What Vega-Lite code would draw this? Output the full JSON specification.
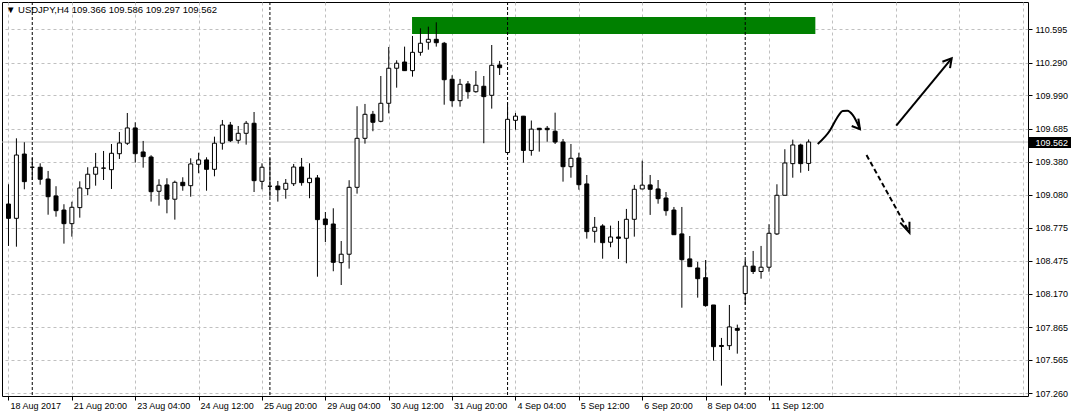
{
  "$schema": "https://vega.github.io/schema/vega-lite/v6.json",
  "width": 1026,
  "height": 394,
  "autosize": {"type": "none"},
  "padding": {"left": 2, "top": 2, "right": 43, "bottom": 20},
  "background": "white",
  "config": {
    "view": {"stroke": "black", "strokeWidth": 1},
    "font": "Liberation Sans",
    "axis": {"labelOverlap": false, "labelBound": false, "labelFlush": false}
  },
  "title": {
    "text": "▼  USDJPY,H4  109.366 109.586 109.297 109.562",
    "anchor": "start",
    "frame": "group",
    "orient": "top",
    "offset": -13,
    "dx": 4,
    "font": "Liberation Sans",
    "fontSize": 9.5,
    "fontWeight": "normal",
    "color": "black"
  },
  "datasets": {
    "candles": [
      {"t": "2017-08-18 12:00", "n": 0, "o": 108.994, "h": 109.175, "l": 108.610, "c": 108.863},
      {"t": "2017-08-18 16:00", "n": 1, "o": 108.863, "h": 109.596, "l": 108.603, "c": 109.443},
      {"t": "2017-08-18 20:00", "n": 2, "o": 109.452, "h": 109.560, "l": 109.129, "c": 109.199},
      {"t": "2017-08-21 00:00", "n": 3, "o": 109.331, "h": 109.416, "l": 109.214, "c": 109.331},
      {"t": "2017-08-21 04:00", "n": 4, "o": 109.331, "h": 109.367, "l": 109.171, "c": 109.221},
      {"t": "2017-08-21 08:00", "n": 5, "o": 109.223, "h": 109.297, "l": 108.896, "c": 109.061},
      {"t": "2017-08-21 12:00", "n": 6, "o": 109.068, "h": 109.157, "l": 108.878, "c": 108.933},
      {"t": "2017-08-21 16:00", "n": 7, "o": 108.939, "h": 108.992, "l": 108.631, "c": 108.814},
      {"t": "2017-08-21 20:00", "n": 8, "o": 108.814, "h": 109.015, "l": 108.695, "c": 108.964},
      {"t": "2017-08-22 00:00", "n": 9, "o": 108.961, "h": 109.202, "l": 108.869, "c": 109.141},
      {"t": "2017-08-22 04:00", "n": 10, "o": 109.135, "h": 109.331, "l": 109.074, "c": 109.267},
      {"t": "2017-08-22 08:00", "n": 11, "o": 109.267, "h": 109.462, "l": 109.162, "c": 109.331},
      {"t": "2017-08-22 12:00", "n": 12, "o": 109.322, "h": 109.480, "l": 109.214, "c": 109.324},
      {"t": "2017-08-22 16:00", "n": 13, "o": 109.309, "h": 109.544, "l": 109.132, "c": 109.459},
      {"t": "2017-08-22 20:00", "n": 14, "o": 109.455, "h": 109.654, "l": 109.407, "c": 109.553},
      {"t": "2017-08-23 00:00", "n": 15, "o": 109.551, "h": 109.828, "l": 109.535, "c": 109.691},
      {"t": "2017-08-23 04:00", "n": 16, "o": 109.691, "h": 109.743, "l": 109.373, "c": 109.455},
      {"t": "2017-08-23 08:00", "n": 17, "o": 109.471, "h": 109.572, "l": 109.327, "c": 109.428},
      {"t": "2017-08-23 12:00", "n": 18, "o": 109.425, "h": 109.441, "l": 109.016, "c": 109.107},
      {"t": "2017-08-23 16:00", "n": 19, "o": 109.111, "h": 109.221, "l": 108.979, "c": 109.166},
      {"t": "2017-08-23 20:00", "n": 20, "o": 109.169, "h": 109.230, "l": 108.909, "c": 109.038},
      {"t": "2017-08-24 00:00", "n": 21, "o": 109.038, "h": 109.208, "l": 108.851, "c": 109.193},
      {"t": "2017-08-24 04:00", "n": 22, "o": 109.193, "h": 109.239, "l": 109.116, "c": 109.162},
      {"t": "2017-08-24 08:00", "n": 23, "o": 109.162, "h": 109.413, "l": 109.061, "c": 109.361},
      {"t": "2017-08-24 12:00", "n": 24, "o": 109.358, "h": 109.464, "l": 109.276, "c": 109.398},
      {"t": "2017-08-24 16:00", "n": 25, "o": 109.398, "h": 109.422, "l": 109.116, "c": 109.312},
      {"t": "2017-08-24 20:00", "n": 26, "o": 109.312, "h": 109.611, "l": 109.248, "c": 109.551},
      {"t": "2017-08-25 00:00", "n": 27, "o": 109.551, "h": 109.764, "l": 109.492, "c": 109.718},
      {"t": "2017-08-25 04:00", "n": 28, "o": 109.718, "h": 109.746, "l": 109.562, "c": 109.574},
      {"t": "2017-08-25 08:00", "n": 29, "o": 109.578, "h": 109.709, "l": 109.547, "c": 109.642},
      {"t": "2017-08-25 12:00", "n": 30, "o": 109.642, "h": 109.755, "l": 109.538, "c": 109.734},
      {"t": "2017-08-25 16:00", "n": 31, "o": 109.734, "h": 109.837, "l": 109.104, "c": 109.208},
      {"t": "2017-08-25 20:00", "n": 32, "o": 109.202, "h": 109.367, "l": 109.129, "c": 109.331},
      {"t": "2017-08-28 00:00", "n": 33, "o": 109.157, "h": 109.413, "l": 109.061, "c": 109.157},
      {"t": "2017-08-28 04:00", "n": 34, "o": 109.159, "h": 109.205, "l": 109.016, "c": 109.125},
      {"t": "2017-08-28 08:00", "n": 35, "o": 109.129, "h": 109.223, "l": 109.043, "c": 109.184},
      {"t": "2017-08-28 12:00", "n": 36, "o": 109.180, "h": 109.361, "l": 109.159, "c": 109.333},
      {"t": "2017-08-28 16:00", "n": 37, "o": 109.333, "h": 109.416, "l": 109.162, "c": 109.190},
      {"t": "2017-08-28 20:00", "n": 38, "o": 109.190, "h": 109.367, "l": 109.047, "c": 109.230},
      {"t": "2017-08-29 00:00", "n": 39, "o": 109.233, "h": 109.260, "l": 108.328, "c": 108.851},
      {"t": "2017-08-29 04:00", "n": 40, "o": 108.857, "h": 108.921, "l": 108.646, "c": 108.805},
      {"t": "2017-08-29 08:00", "n": 41, "o": 108.811, "h": 108.955, "l": 108.378, "c": 108.460},
      {"t": "2017-08-29 12:00", "n": 42, "o": 108.457, "h": 108.655, "l": 108.252, "c": 108.534},
      {"t": "2017-08-29 16:00", "n": 43, "o": 108.534, "h": 109.212, "l": 108.402, "c": 109.147},
      {"t": "2017-08-29 20:00", "n": 44, "o": 109.147, "h": 109.890, "l": 109.089, "c": 109.596},
      {"t": "2017-08-30 00:00", "n": 45, "o": 109.596, "h": 109.911, "l": 109.547, "c": 109.816},
      {"t": "2017-08-30 04:00", "n": 46, "o": 109.816, "h": 109.847, "l": 109.661, "c": 109.743},
      {"t": "2017-08-30 08:00", "n": 47, "o": 109.752, "h": 110.167, "l": 109.743, "c": 109.917},
      {"t": "2017-08-30 12:00", "n": 48, "o": 109.917, "h": 110.433, "l": 109.825, "c": 110.238},
      {"t": "2017-08-30 16:00", "n": 49, "o": 110.238, "h": 110.311, "l": 110.060, "c": 110.284},
      {"t": "2017-08-30 20:00", "n": 50, "o": 110.295, "h": 110.436, "l": 110.213, "c": 110.216},
      {"t": "2017-08-31 00:00", "n": 51, "o": 110.216, "h": 110.534, "l": 110.161, "c": 110.384},
      {"t": "2017-08-31 04:00", "n": 52, "o": 110.384, "h": 110.604, "l": 110.353, "c": 110.467},
      {"t": "2017-08-31 08:00", "n": 53, "o": 110.476, "h": 110.619, "l": 110.408, "c": 110.503},
      {"t": "2017-08-31 12:00", "n": 54, "o": 110.503, "h": 110.659, "l": 110.436, "c": 110.472},
      {"t": "2017-08-31 16:00", "n": 55, "o": 110.467, "h": 110.479, "l": 109.904, "c": 110.133},
      {"t": "2017-08-31 20:00", "n": 56, "o": 110.137, "h": 110.174, "l": 109.886, "c": 109.941},
      {"t": "2017-09-01 00:00", "n": 57, "o": 109.941, "h": 110.140, "l": 109.886, "c": 110.091},
      {"t": "2017-09-01 04:00", "n": 58, "o": 110.094, "h": 110.121, "l": 109.959, "c": 110.023},
      {"t": "2017-09-01 08:00", "n": 59, "o": 110.023, "h": 110.213, "l": 110.014, "c": 110.082},
      {"t": "2017-09-01 12:00", "n": 60, "o": 110.073, "h": 110.167, "l": 109.551, "c": 109.978},
      {"t": "2017-09-01 16:00", "n": 61, "o": 109.990, "h": 110.451, "l": 109.868, "c": 110.265},
      {"t": "2017-09-01 20:00", "n": 62, "o": 110.268, "h": 110.305, "l": 110.176, "c": 110.243},
      {"t": "2017-09-04 00:00", "n": 63, "o": 109.466, "h": 109.924, "l": 109.452, "c": 109.770},
      {"t": "2017-09-04 04:00", "n": 64, "o": 109.761, "h": 109.828, "l": 109.675, "c": 109.799},
      {"t": "2017-09-04 08:00", "n": 65, "o": 109.799, "h": 109.801, "l": 109.373, "c": 109.485},
      {"t": "2017-09-04 12:00", "n": 66, "o": 109.485, "h": 109.759, "l": 109.437, "c": 109.680},
      {"t": "2017-09-04 16:00", "n": 67, "o": 109.688, "h": 109.691, "l": 109.474, "c": 109.675},
      {"t": "2017-09-04 20:00", "n": 68, "o": 109.688, "h": 109.709, "l": 109.565, "c": 109.675},
      {"t": "2017-09-05 00:00", "n": 69, "o": 109.661, "h": 109.831, "l": 109.544, "c": 109.562},
      {"t": "2017-09-05 04:00", "n": 70, "o": 109.562, "h": 109.590, "l": 109.199, "c": 109.336},
      {"t": "2017-09-05 08:00", "n": 71, "o": 109.336, "h": 109.544, "l": 109.235, "c": 109.413},
      {"t": "2017-09-05 12:00", "n": 72, "o": 109.416, "h": 109.464, "l": 109.125, "c": 109.171},
      {"t": "2017-09-05 16:00", "n": 73, "o": 109.178, "h": 109.260, "l": 108.677, "c": 108.741},
      {"t": "2017-09-05 20:00", "n": 74, "o": 108.744, "h": 108.875, "l": 108.640, "c": 108.781},
      {"t": "2017-09-06 00:00", "n": 75, "o": 108.793, "h": 108.809, "l": 108.493, "c": 108.640},
      {"t": "2017-09-06 04:00", "n": 76, "o": 108.644, "h": 108.796, "l": 108.598, "c": 108.692},
      {"t": "2017-09-06 08:00", "n": 77, "o": 108.692, "h": 108.839, "l": 108.491, "c": 108.680},
      {"t": "2017-09-06 12:00", "n": 78, "o": 108.680, "h": 108.949, "l": 108.451, "c": 108.854},
      {"t": "2017-09-06 16:00", "n": 79, "o": 108.854, "h": 109.169, "l": 108.695, "c": 109.129},
      {"t": "2017-09-06 20:00", "n": 80, "o": 109.132, "h": 109.391, "l": 109.129, "c": 109.167},
      {"t": "2017-09-07 00:00", "n": 81, "o": 109.169, "h": 109.260, "l": 108.894, "c": 109.129},
      {"t": "2017-09-07 04:00", "n": 82, "o": 109.132, "h": 109.214, "l": 108.997, "c": 109.043},
      {"t": "2017-09-07 08:00", "n": 83, "o": 109.049, "h": 109.104, "l": 108.887, "c": 108.933},
      {"t": "2017-09-07 12:00", "n": 84, "o": 108.939, "h": 108.967, "l": 108.710, "c": 108.713},
      {"t": "2017-09-07 16:00", "n": 85, "o": 108.720, "h": 108.967, "l": 108.044, "c": 108.484},
      {"t": "2017-09-07 20:00", "n": 86, "o": 108.491, "h": 108.701, "l": 108.417, "c": 108.420},
      {"t": "2017-09-08 00:00", "n": 87, "o": 108.408, "h": 108.463, "l": 108.136, "c": 108.310},
      {"t": "2017-09-08 04:00", "n": 88, "o": 108.319, "h": 108.481, "l": 108.053, "c": 108.063},
      {"t": "2017-09-08 08:00", "n": 89, "o": 108.069, "h": 108.069, "l": 107.559, "c": 107.687},
      {"t": "2017-09-08 12:00", "n": 90, "o": 107.698, "h": 107.767, "l": 107.330, "c": 107.689},
      {"t": "2017-09-08 16:00", "n": 91, "o": 107.696, "h": 108.069, "l": 107.657, "c": 107.868},
      {"t": "2017-09-08 20:00", "n": 92, "o": 107.854, "h": 107.889, "l": 107.623, "c": 107.837},
      {"t": "2017-09-11 00:00", "n": 93, "o": 108.174, "h": 108.483, "l": 108.072, "c": 108.425},
      {"t": "2017-09-11 04:00", "n": 94, "o": 108.425, "h": 108.564, "l": 108.353, "c": 108.376},
      {"t": "2017-09-11 08:00", "n": 95, "o": 108.376, "h": 108.610, "l": 108.310, "c": 108.415},
      {"t": "2017-09-11 12:00", "n": 96, "o": 108.415, "h": 108.809, "l": 108.374, "c": 108.726},
      {"t": "2017-09-11 16:00", "n": 97, "o": 108.720, "h": 109.175, "l": 108.710, "c": 109.074},
      {"t": "2017-09-11 20:00", "n": 98, "o": 109.074, "h": 109.496, "l": 109.074, "c": 109.370},
      {"t": "2017-09-12 00:00", "n": 99, "o": 109.364, "h": 109.584, "l": 109.235, "c": 109.535},
      {"t": "2017-09-12 04:00", "n": 100, "o": 109.535, "h": 109.547, "l": 109.281, "c": 109.364},
      {"t": "2017-09-12 08:00", "n": 101, "o": 109.366, "h": 109.586, "l": 109.297, "c": 109.562}
    ],
    "zone": [
      {"from": 50.94, "to": 101.85, "low": 110.552, "high": 110.708}
    ],
    "weeks": [
      {"n": 3}, {"n": 33}, {"n": 63}, {"n": 93}
    ],
    "bid": [
      {"price": 109.562}
    ],
    "arrows": [
      {"path": "curve", "seq": 0, "bar": 102.15, "price": 109.544},
      {"path": "curve", "seq": 1, "bar": 103.73, "price": 109.672},
      {"path": "curve", "seq": 2, "bar": 104.56, "price": 109.780},
      {"path": "curve", "seq": 3, "bar": 105.31, "price": 109.847},
      {"path": "curve", "seq": 4, "bar": 105.9, "price": 109.849},
      {"path": "curve", "seq": 5, "bar": 106.56, "price": 109.810},
      {"path": "curve", "seq": 6, "bar": 107.06, "price": 109.748},
      {"path": "curve", "seq": 7, "bar": 107.48, "price": 109.679},
      {"path": "curveHead", "seq": 0, "bar": 106.44, "price": 109.709},
      {"path": "curveHead", "seq": 1, "bar": 107.48, "price": 109.679},
      {"path": "curveHead", "seq": 2, "bar": 107.28, "price": 109.776},
      {"path": "up", "seq": 0, "bar": 112.06, "price": 109.712},
      {"path": "up", "seq": 1, "bar": 119.06, "price": 110.329},
      {"path": "upHead", "seq": 0, "bar": 117.89, "price": 110.297},
      {"path": "upHead", "seq": 1, "bar": 119.06, "price": 110.329},
      {"path": "upHead", "seq": 2, "bar": 118.85, "price": 110.239},
      {"path": "down", "seq": 0, "bar": 108.31, "price": 109.443},
      {"path": "down", "seq": 1, "bar": 113.73, "price": 108.732},
      {"path": "downHead", "seq": 0, "bar": 112.56, "price": 108.823},
      {"path": "downHead", "seq": 1, "bar": 113.73, "price": 108.732},
      {"path": "downHead", "seq": 2, "bar": 113.73, "price": 108.832}
    ]
  },
  "resolve": {"scale": {"y": "independent"}, "axis": {"y": "independent"}},
  "layer": [
    {
      "data": {"name": "bid"},
      "mark": {"type": "rule", "color": "#c0c0c0", "strokeWidth": 1},
      "encoding": {
        "y": {
          "field": "price", "type": "quantitative",
          "scale": {"domain": [107.235, 110.845], "nice": false, "zero": false},
          "axis": {
            "orient": "right",
            "values": [109.562],
            "format": ".3f",
            "title": null,
            "domain": false,
            "grid": false,
            "tickColor": "black",
            "tickSize": 43,
            "tickWidth": 11,
            "labelPadding": -36,
            "labelColor": "white",
            "labelFont": "Liberation Sans",
            "labelFontSize": 9,
            "labelBaseline": "middle",
            "labelOverlap": false,
            "labelBound": false
          }
        }
      }
    },
    {
      "data": {"name": "zone"},
      "mark": {"type": "rect", "color": "#008000"},
      "encoding": {
        "x": {
          "field": "from", "type": "quantitative",
          "scale": {"domain": [-0.1875, 128.0625], "nice": false, "zero": false},
          "axis": {
            "values": [0, 4, 8, 12, 16, 20, 24, 28, 32, 36, 40, 44, 48, 52, 56, 60, 64, 68, 72, 76, 80, 84, 88, 92, 96, 100, 104, 108, 112, 116, 120, 124, 128],
            "title": null,
            "domain": false,
            "grid": true,
            "gridColor": "#c0c0c0",
            "gridDash": [3, 3],
            "tickSize": 4,
            "tickColor": {"condition": {"test": "datum.value % 8 != 0 || datum.value > 96", "value": "transparent"}, "value": "black"},
            "labelExpr": "datum.value % 8 == 0 && datum.value <= 96 ? ['18 Aug 2017','21 Aug 20:00','23 Aug 04:00','24 Aug 12:00','25 Aug 20:00','29 Aug 04:00','30 Aug 12:00','31 Aug 20:00','4 Sep 04:00','5 Sep 12:00','6 Sep 20:00','8 Sep 04:00','11 Sep 12:00'][datum.value / 8] : ''",
            "labelAlign": "left",
            "labelBaseline": "top",
            "labelPadding": 1,
            "labelOffset": 1.5,
            "labelFont": "Liberation Sans",
            "labelFontSize": 9,
            "labelColor": "black",
            "labelOverlap": false,
            "labelFlush": false,
            "labelBound": false
          }
        },
        "x2": {"field": "to"},
        "y": {
          "field": "low", "type": "quantitative",
          "scale": {"domain": [107.235, 110.845], "nice": false, "zero": false},
          "axis": {
            "orient": "right",
            "values": [110.29, 109.685, 109.08, 108.475, 107.865, 107.26],
            "format": ".3f",
            "title": null,
            "domain": false,
            "grid": true,
            "gridColor": "#c0c0c0",
            "gridDash": [3, 3],
            "tickColor": "black",
            "tickSize": 4,
            "labelPadding": 3,
            "labelColor": "black",
            "labelFont": "Liberation Sans",
            "labelFontSize": 9,
            "labelBaseline": "middle",
            "labelOverlap": false,
            "labelFlush": false,
            "labelBound": false
          }
        },
        "y2": {"field": "high"}
      }
    },
    {
      "layer": [
        {
          "data": {"name": "weeks"},
          "mark": {"type": "rule", "color": "black", "strokeWidth": 1, "strokeDash": [3, 2]},
          "encoding": {
            "x": {"field": "n", "type": "quantitative"}
          }
        },
        {
          "data": {"name": "candles"},
          "mark": {"type": "rule", "color": "black", "strokeWidth": 1},
          "encoding": {
            "x": {"field": "n", "type": "quantitative"},
            "y": {
              "field": "l", "type": "quantitative",
              "scale": {"domain": [107.235, 110.845], "nice": false, "zero": false},
              "axis": {
                "orient": "right",
                "values": [110.595, 109.99, 109.38, 108.775, 108.17, 107.565],
                "format": ".3f",
                "title": null,
                "domain": false,
                "grid": true,
                "gridColor": "#c0c0c0",
                "gridDash": [3, 3],
                "tickColor": "black",
                "tickSize": 4,
                "labelPadding": 3,
                "labelColor": "black",
                "labelFont": "Liberation Sans",
                "labelFontSize": 9,
                "labelBaseline": "middle",
                "labelOverlap": false,
                "labelFlush": false,
                "labelBound": false
              }
            },
            "y2": {"field": "h"}
          }
        },
        {
          "data": {"name": "candles"},
          "mark": {"type": "bar", "width": 4, "stroke": "black", "strokeWidth": 1},
          "encoding": {
            "x": {"field": "n", "type": "quantitative"},
            "y": {"field": "o", "type": "quantitative"},
            "y2": {"field": "c"},
            "fill": {"condition": {"test": "datum.c < datum.o", "value": "black"}, "value": "white"}
          }
        },
        {
          "data": {"name": "arrows"},
          "transform": [{"filter": "datum.path == 'curve'"}],
          "mark": {"type": "line", "color": "black", "strokeWidth": 2, "interpolate": "monotone"},
          "encoding": {
            "x": {"field": "bar", "type": "quantitative"},
            "y": {"field": "price", "type": "quantitative"},
            "order": {"field": "seq"}
          }
        },
        {
          "data": {"name": "arrows"},
          "transform": [{"filter": "datum.path != 'curve' && datum.path != 'down'"}],
          "mark": {"type": "line", "color": "black", "strokeWidth": 2},
          "encoding": {
            "x": {"field": "bar", "type": "quantitative"},
            "y": {"field": "price", "type": "quantitative"},
            "detail": {"field": "path"},
            "order": {"field": "seq"}
          }
        },
        {
          "data": {"name": "arrows"},
          "transform": [{"filter": "datum.path == 'down'"}],
          "mark": {"type": "line", "color": "black", "strokeWidth": 2, "strokeDash": [5, 3]},
          "encoding": {
            "x": {"field": "bar", "type": "quantitative"},
            "y": {"field": "price", "type": "quantitative"},
            "order": {"field": "seq"}
          }
        }
      ]
    }
  ]
}
